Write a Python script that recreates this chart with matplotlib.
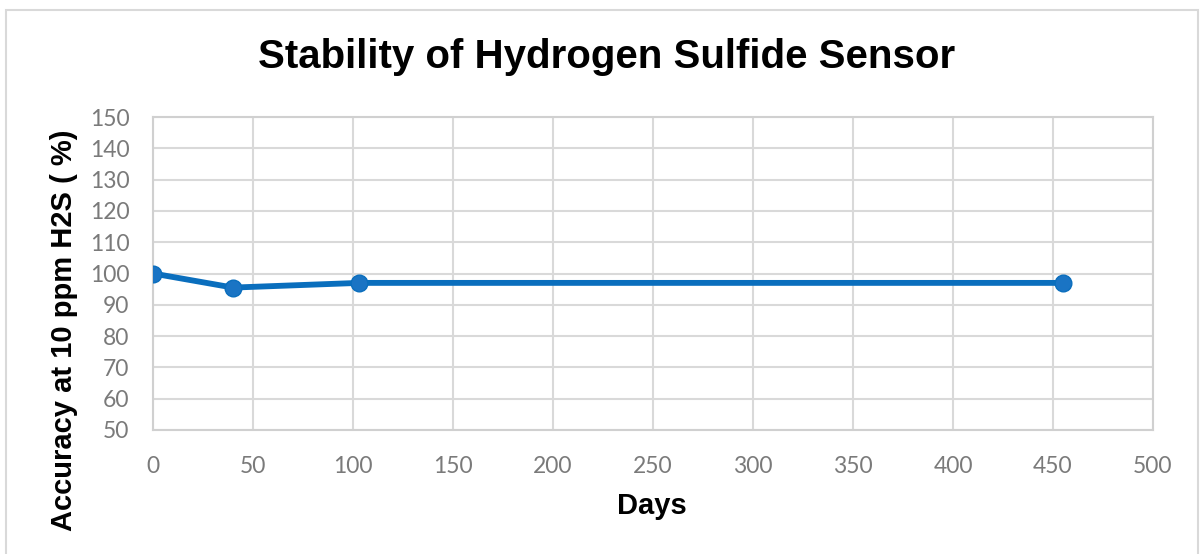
import matplotlib
matplotlib.use("Agg")
import matplotlib.pyplot as plt
from matplotlib.patches import Rectangle

days = [0, 40, 103, 455]
accuracy = [100, 95.5, 97, 97]
x_ticks = [0, 50, 100, 150, 200, 250, 300, 350, 400, 450, 500]
y_ticks = [50, 60, 70, 80, 90, 100, 110, 120, 130, 140, 150]

W, H = 1204, 554
fig = plt.figure(figsize=(W / 100, H / 100), dpi=100)
fig.patch.set_facecolor("white")

# outer frame
fig.patches.append(Rectangle((6 / W, -0.05), (1198 - 6) / W, 1.05 - 10 / H,
                             transform=fig.transFigure, fill=False,
                             edgecolor="#d9d9d9", linewidth=1.5))

ax = fig.add_axes([153 / W, 1 - 430 / H, (1153 - 153) / W, (430 - 117) / H])
ax.plot(days, accuracy, color="#0a6ebd", linewidth=4.2, marker="o",
        markersize=12, markerfacecolor="#1a74c4", markeredgecolor="#0a6ebd",
        solid_joinstyle="round", zorder=3)

ax.set_xlim(0, 500)
ax.set_ylim(50, 150)
ax.set_xticks(x_ticks)
ax.set_yticks(y_ticks)
ax.grid(True, color="#d9d9d9", linewidth=1.5)
ax.set_axisbelow(True)
for s in ax.spines.values():
    s.set_color("#d0d0d0")
    s.set_linewidth(1.5)
ax.tick_params(length=0, labelsize=16.5, labelcolor="#7a7a7a")
ax.tick_params(axis="y", pad=17)
ax.tick_params(axis="x", pad=19)
for lab in ax.get_xticklabels() + ax.get_yticklabels():
    lab.set_fontfamily("Lato")

fig.text(607 / W, 1 - 57 / H, "Stability of Hydrogen Sulfide Sensor",
         ha="center", va="center", fontsize=29, fontweight="bold",
         family="Liberation Sans")
fig.text(64 / W, 1 - 330 / H, "Accuracy at 10 ppm H2S ( %)",
         ha="center", va="center", rotation=90, fontsize=21,
         fontweight="bold", family="Liberation Sans")
fig.text(652 / W, 1 - 506 / H, "Days", ha="center", va="center",
         fontsize=21, fontweight="bold", family="Liberation Sans")

fig.savefig("out.png", dpi=100)
